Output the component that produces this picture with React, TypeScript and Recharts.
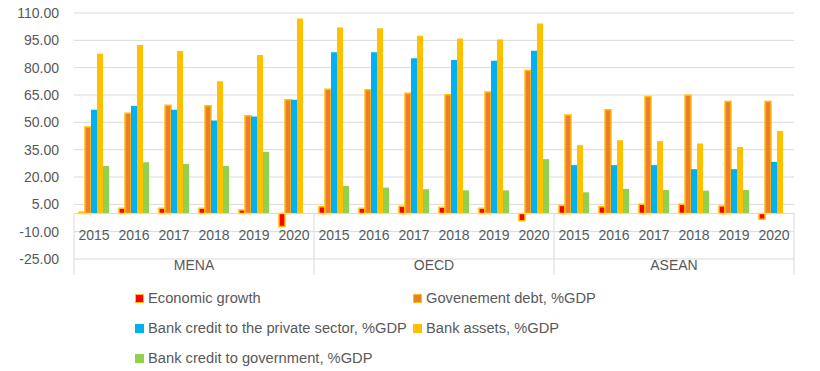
import React from 'react';
import { BarChart, Bar, XAxis, YAxis, CartesianGrid, ReferenceLine, Legend } from 'recharts';

const groups = ['MENA', 'OECD', 'ASEAN'];
const years = ['2015', '2016', '2017', '2018', '2019', '2020'];
const yTicks = [-25, -10, 5, 20, 35, 50, 65, 80, 95, 110];

// values per group/year, in order MENA 2015..2020, OECD 2015..2020, ASEAN 2015..2020
const economicGrowth = [0.7, 2.8, 2.8, 2.8, 1.9, -7.2, 3.7, 2.8, 3.9, 3.4, 2.8, -4.0, 4.3, 3.7, 5.1, 5.1, 4.1, -3.2];
const govDebt = [47.5, 55.0, 59.4, 59.1, 53.6, 62.4, 68.2, 67.9, 66.0, 65.1, 66.6, 78.5, 54.0, 56.9, 64.2, 64.9, 61.4, 61.4];
const privateCredit = [56.9, 59.0, 56.9, 51.0, 53.2, 62.4, 88.4, 88.4, 85.1, 84.2, 83.8, 89.3, 26.5, 26.5, 26.5, 24.3, 24.3, 28.3];
const bankAssets = [87.6, 92.4, 89.1, 72.6, 86.9, 107.0, 102.1, 101.6, 97.5, 96.0, 95.5, 104.3, 37.5, 40.2, 39.7, 38.4, 36.5, 45.3];
const govCredit = [26.1, 28.1, 27.2, 26.1, 33.8, null, 15.1, 14.2, 13.3, 12.7, 12.7, 29.8, 11.6, 13.5, 12.9, 12.5, 12.9, null];

const series = [
  { key: 'growth', name: 'Economic growth', fill: '#FF0000', stroke: '#FFC000' },
  { key: 'debt', name: 'Govenement debt, %GDP', fill: '#ED7D31', stroke: '#FFC000' },
  { key: 'private', name: 'Bank credit to the private sector, %GDP', fill: '#00B0F0' },
  { key: 'assets', name: 'Bank assets, %GDP', fill: '#FFC000' },
  { key: 'gov', name: 'Bank credit to government, %GDP', fill: '#92D050' },
];

const rows = groups.flatMap((g, gi) =>
  years.map((yr, yi) => {
    const i = gi * years.length + yi;
    return {
      key: `${g}-${yr}`,
      group: g,
      year: yr,
      growth: economicGrowth[i],
      debt: govDebt[i],
      private: privateCredit[i],
      assets: bankAssets[i],
      gov: govCredit[i],
    };
  })
);

const FONT = '"Liberation Sans", Arial, sans-serif';
const TEXT = '#595959';
const LINE = '#D9D9D9';

function CategoryTick(props: any) {
  const { x, y, payload } = props;
  const idx = payload.index;
  const row = rows[idx];
  const half = payload.offset || 20;
  const pos = idx % years.length;
  return (
    <g>
      <text x={x} y={y - 19.5} textAnchor="middle" fill={TEXT} fontSize={14} fontFamily={FONT}>
        {row.year}
      </text>
      {pos === 2 && (
        <text x={x + half} y={y + 11} textAnchor="middle" fill={TEXT} fontSize={14} fontFamily={FONT}>
          {row.group}
        </text>
      )}
      {pos === 0 && <line x1={x - half} x2={x - half} y1={y} y2={y + 16} stroke={LINE} />}
      {idx === rows.length - 1 && <line x1={x + half} x2={x + half} y1={y} y2={y + 16} stroke={LINE} />}
    </g>
  );
}

function LegendBox() {
  return (
    <div
      style={{
        display: 'grid',
        gridTemplateColumns: '278px auto',
        gridAutoRows: '30px',
        paddingLeft: 135,
        paddingTop: 8,
        fontFamily: FONT,
        fontSize: 14.7,
        color: TEXT,
      }}
    >
      {series.map((s) => (
        <div key={s.key} style={{ display: 'flex', alignItems: 'center', whiteSpace: 'nowrap' }}>
          <span
            style={{
              width: 9,
              height: 9,
              boxSizing: 'border-box',
              background: s.fill,
              border: s.stroke ? `1.5px solid ${s.stroke}` : 'none',
              marginRight: 4,
              display: 'inline-block',
            }}
          />
          {s.name}
        </div>
      ))}
    </div>
  );
}

export default function App() {
  const last = rows[rows.length - 1].key;
  const bounds = [rows[0].key, rows[6].key, rows[12].key];
  return (
    <div style={{ position: 'absolute', left: 0, top: 0, width: 820, height: 371, background: '#fff' }}>
      <BarChart
        width={820}
        height={371}
        data={rows}
        margin={{ top: 13, right: 26, left: 0, bottom: 0 }}
        barCategoryGap="12.5%"
        barGap={0}
      >
        <CartesianGrid vertical={false} stroke={LINE} horizontalValues={yTicks} />
        <YAxis
          domain={[-25, 110]}
          ticks={yTicks}
          width={74}
          axisLine={false}
          tickLine={false}
          tickMargin={9}
          tickFormatter={(v: number) => v.toFixed(2)}
          tick={{ fill: TEXT, fontSize: 14, fontFamily: FONT }}
        />
        <XAxis
          dataKey="key"
          height={16}
          interval={0}
          axisLine={false}
          tickLine={false}
          tickSize={0}
          tickMargin={0}
          tick={<CategoryTick />}
        />
        <ReferenceLine y={0} stroke={LINE} />
        {bounds.map((k) => (
          <ReferenceLine
            key={k}
            segment={[{ x: k, y: 0 }, { x: k, y: -25 }]}
            position="start"
            stroke={LINE}
          />
        ))}
        <ReferenceLine segment={[{ x: last, y: 0 }, { x: last, y: -25 }]} position="end" stroke={LINE} />
        <Legend verticalAlign="bottom" content={<LegendBox />} wrapperStyle={{ left: 0, width: 820, height: 96 }} />
        {series.map((s) => (
          <Bar
            key={s.key}
            dataKey={s.key}
            name={s.name}
            fill={s.fill}
            stroke={s.stroke}
            strokeWidth={s.stroke ? 1.5 : 0}
            isAnimationActive={false}
          />
        ))}
      </BarChart>
    </div>
  );
}
